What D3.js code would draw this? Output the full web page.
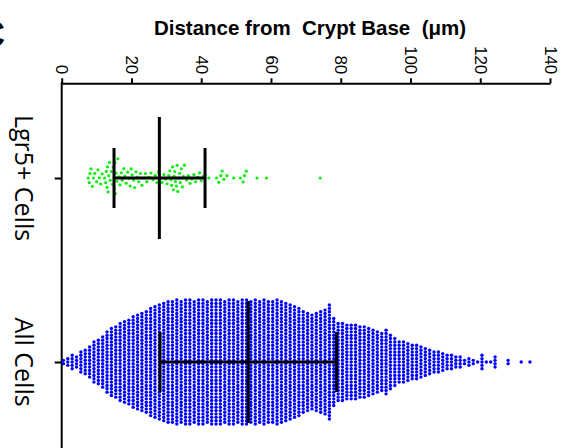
<!DOCTYPE html>
<html><head><meta charset="utf-8">
<script src="https://cdn.jsdelivr.net/npm/d3@7"></script>
<style>body{margin:0;background:#fff}svg{display:block}</style>
</head><body>
<svg id="c" width="566" height="448"></svg>
<script>
// ---- data ----
const categories = ["Lgr5+ Cells", "All Cells"];
const axisTitle = "Distance from  Crypt Base  (\u03bcm)";
const tickValues = [0, 20, 40, 60, 80, 100, 120, 140];
const medians = [28.0, 53.5];
const lowerBars = [15.0, 28.2];
const upperBars = [41.1, 78.8];
const lgr5Values = [
  7.6, 7.9, 8.1, 8.4, 8.8, 9.1, 9.5,
  10.0, 10.4, 10.8, 11.2, 11.6,
  12.3, 12.6, 12.8, 13.0, 13.1, 13.3, 13.5, 13.7, 13.9, 14.2,
  14.6, 14.8, 15.0, 15.1, 15.3, 15.4, 15.6, 15.8, 16.1, 16.4, 16.7,
  17.1, 17.4, 17.8, 18.1, 18.5, 18.9,
  19.3, 19.6, 19.9, 20.2, 20.6, 20.9, 21.3, 21.7,
  22.1, 22.6, 23.0, 23.5, 24.0, 24.4,
  25.0, 25.6, 26.2, 26.8, 27.3,
  27.8, 28.3, 28.8, 29.3, 29.8, 30.2,
  30.7, 31.0, 31.3, 31.5, 31.8, 32.0, 32.2, 32.4, 32.6, 32.9, 33.1, 33.3, 33.6, 33.8, 34.0, 34.3, 34.6, 34.9, 35.2,
  35.8, 36.3, 36.8, 37.3, 37.9, 38.4, 39.0, 39.5, 40.0, 40.6,
  42.2, 44.4, 45.0, 45.6, 46.0, 46.5, 47.4, 49.3,
  51.2, 52.0, 52.4, 52.9, 56.0, 58.7,
  74.1
];
// All cells: binned distances (column value) and number of cells per column
const allBinStart = 0.5, allBinStep = 1.25;
const allCounts = [
  2, 3, 5, 4, 7, 8, 10, 13, 14, 16,
  19, 21, 22, 24, 25, 26, 28, 29, 30, 31,
  33, 34, 35, 36, 37, 37, 38, 37, 38, 38,
  37, 38, 38, 37, 38, 38, 38, 37, 38, 38,
  37, 38, 38, 37, 38, 37, 38, 37, 37, 38,
  37, 36, 35, 34, 33, 31, 30, 29, 30, 31,
  32, 35, 27, 24, 24, 23, 23, 23, 22, 22,
  21, 20, 19, 18, 20, 17, 15, 13, 13, 12,
  11, 11, 10, 9, 8, 7, 7, 6, 5, 5,
  4, 4, 2, 3, 2, 1, 5, 1, 1, 4,
  0, 0, 2, 0, 0, 1, 0, 1
];
const allBins = allCounts.map((_, i) => +(allBinStart + i * allBinStep).toFixed(2));

// ---- drawing ----
const svg = d3.select("#c");
const x = d3.scaleLinear().domain([0, 140]).range([61.7, 550]);
const y = d3.scalePoint().domain(categories).range([178, 362]);
const axisY = 83.3;

// panel letter (cut off at the left edge, as in the source figure)
svg.append("text").attr("x", 5).attr("y", 47).attr("text-anchor", "end")
  .attr("font-family", "Liberation Sans, Arial, sans-serif").attr("font-weight", "bold")
  .attr("font-size", 36).text("C");

// title
svg.append("text").attr("x", 310).attr("y", 35).attr("text-anchor", "middle")
  .attr("font-family", "Liberation Sans, Arial, sans-serif").attr("font-weight", "bold")
  .attr("font-size", 20.5).style("white-space", "pre").text(axisTitle);

// top axis
const gx = svg.append("g").attr("transform", `translate(0,${axisY})`)
  .call(d3.axisTop(x).tickValues(tickValues).tickSize(5).tickSizeOuter(0).tickFormat(d3.format("d")));
gx.select(".domain").attr("stroke-width", 2);
gx.selectAll(".tick line").attr("stroke-width", 2);
gx.selectAll(".tick text")
  .attr("font-family", "Liberation Sans, Arial, sans-serif").attr("font-size", 17)
  .attr("fill", "#000")
  .attr("x", -9).attr("y", 0).attr("dy", "0.35em")
  .attr("transform", "rotate(90)").style("text-anchor", "end");

// left axis
svg.append("line").attr("x1", x(0)).attr("x2", x(0)).attr("y1", axisY - 1).attr("y2", 448)
  .attr("stroke", "#000").attr("stroke-width", 2);
const gy = svg.append("g").attr("transform", `translate(${x(0)},0)`)
  .call(d3.axisLeft(y).tickSize(7).tickFormat(""));
gy.select(".domain").remove();
gy.selectAll(".tick line").attr("stroke-width", 2);

// category labels
svg.selectAll("text.cat").data(categories).enter().append("text").attr("class", "cat")
  .attr("transform", d => `translate(15,${y(d)}) rotate(90)`)
  .attr("text-anchor", "middle")
  .attr("font-family", "Open Sans, sans-serif").attr("font-size", 25)
  .text(d => d);

// All cells: stacked columns
const dyStep = 3.35;
const allDots = [];
allCounts.forEach((n, i) => {
  for (let j = 0; j < n; j++) allDots.push({v: allBins[i], off: (j - (n - 1) / 2) * dyStep});
});
svg.append("g").selectAll("circle").data(allDots).enter().append("circle")
  .attr("cx", d => x(d.v)).attr("cy", d => y(categories[1]) + d.off)
  .attr("r", 1.7).attr("fill", "#0000ff");

// Lgr5+: beeswarm layout
const diam = 4.8;
const placed = [];
lgr5Values.slice().sort((a, b) => a - b).forEach(v => {
  const px = x(v);
  const near = placed.filter(p => Math.abs(p.px - px) < diam);
  const cands = [0];
  near.forEach(p => {
    const h = Math.sqrt(diam * diam - (p.px - px) ** 2);
    cands.push(p.off + h, p.off - h);
  });
  cands.sort((a, b) => Math.abs(a) - Math.abs(b));
  let off = 0;
  for (const c of cands) {
    if (near.every(p => (p.px - px) ** 2 + (p.off - c) ** 2 >= diam * diam - 0.01)) { off = c; break; }
  }
  placed.push({v, px, off});
});
svg.append("g").selectAll("circle").data(placed).enter().append("circle")
  .attr("cx", d => x(d.v)).attr("cy", d => y(categories[0]) + d.off)
  .attr("r", 1.6).attr("fill", "#11ee11");

// median and error bars
const stats = categories.map((c, i) => ({c, med: medians[i], lo: lowerBars[i], hi: upperBars[i]}));
const gs = svg.append("g").attr("stroke", "#000").attr("stroke-width", 3);
stats.forEach(s => {
  const cy = y(s.c);
  gs.append("line").attr("x1", x(s.lo)).attr("x2", x(s.hi)).attr("y1", cy).attr("y2", cy);
  gs.append("line").attr("x1", x(s.med)).attr("x2", x(s.med)).attr("y1", cy - 61).attr("y2", cy + 61);
  [s.lo, s.hi].forEach(v => gs.append("line").attr("x1", x(v)).attr("x2", x(v)).attr("y1", cy - 30).attr("y2", cy + 30));
});
</script>
</body></html>
